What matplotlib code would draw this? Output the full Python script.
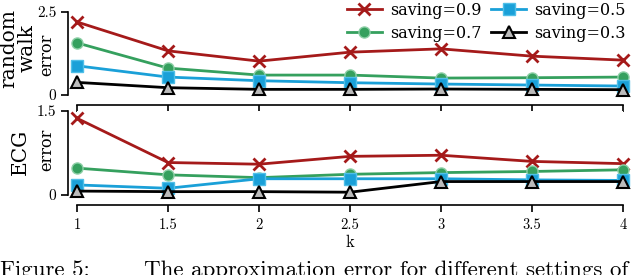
import matplotlib
matplotlib.use('Agg')
import matplotlib.pyplot as plt

k = [1, 1.5, 2, 2.5, 3, 3.5, 4]
savings = ['0.9', '0.7', '0.5', '0.3']

# random walk error per saving level
rw_09 = [2.20, 1.33, 1.02, 1.29, 1.39, 1.17, 1.05]
rw_07 = [1.57, 0.81, 0.60, 0.60, 0.51, 0.52, 0.54]
rw_05 = [0.88, 0.54, 0.43, 0.37, 0.33, 0.30, 0.27]
rw_03 = [0.38, 0.22, 0.17, 0.17, 0.18, 0.17, 0.16]

# ECG error per saving level
ecg_09 = [1.37, 0.58, 0.55, 0.69, 0.71, 0.60, 0.56]
ecg_07 = [0.48, 0.36, 0.31, 0.37, 0.40, 0.42, 0.45]
ecg_05 = [0.18, 0.12, 0.29, 0.29, 0.29, 0.27, 0.26]
ecg_03 = [0.07, 0.06, 0.06, 0.05, 0.24, 0.24, 0.24]

plt.rcParams['font.family'] = 'DejaVu Serif'
plt.rcParams['axes.formatter.use_mathtext'] = True

styles = [
    dict(color='#a51a1a', marker='x', ms=9, mew=2),
    dict(color='#35a05e', marker='o', ms=8, mfc='#35a05e', mec='#8fd0a8', mew=1),
    dict(color='#1aa0d8', marker='s', ms=8, mfc='#1aa0d8', mec='#4fbfe8', mew=1),
    dict(color='black', marker='^', ms=8, mfc='#bbbbbb', mec='black', mew=1.5),
]

fig = plt.figure(figsize=(6.4, 2.75), dpi=100)
ax1 = fig.add_axes([77 / 640, 1 - 95 / 275, 546 / 640, 83 / 275])
ax2 = fig.add_axes([77 / 640, 1 - 195 / 275, 546 / 640, 84 / 275])

top = [rw_09, rw_07, rw_05, rw_03]
bottom = [ecg_09, ecg_07, ecg_05, ecg_03]

for ax, series, ymax in [(ax1, top, 2.5), (ax2, bottom, 1.5)]:
    for s, vals, st in zip(savings, series, styles):
        ax.plot(k, vals, lw=2, label='saving=' + s, clip_on=False, **st)
    ax.set_xlim(1, 4)
    ax.set_ylim(0, ymax)
    ax.set_yticks([0, ymax])
    ax.set_yticklabels(['0', str(ymax)])
    ax.set_xticks(k)
    for side in ['top', 'right']:
        ax.spines[side].set_visible(False)
    ax.spines['left'].set_position(('outward', 6.5))
    ax.spines['bottom'].set_position(('outward', 7))
    ax.spines['left'].set_linewidth(1.2)
    ax.spines['bottom'].set_linewidth(1.2)
    ax.tick_params(direction='out', length=5, width=1.2, labelsize=11)
    for lab in ax.get_yticklabels():
        lab.set_family('cmr10')

ax1.tick_params(axis='x', labelbottom=False)
ax2.set_xticklabels(['1', '1.5', '2', '2.5', '3', '3.5', '4'])
for lab in ax2.get_xticklabels():
    lab.set_family('cmr10')
    lab.set_fontsize(10.5)
ax2.tick_params(axis='x', pad=5)
ax2.set_xlabel('k', family='cmr10', fontsize=12, labelpad=2)

# y labels: big first word(s), smaller "error"
fig.text(9 / 640, 1 - 49 / 275, 'random', fontsize=14.5, rotation=90,
         ha='center', va='center')
fig.text(27 / 640, 1 - 48 / 275, 'walk', fontsize=14.5, rotation=90,
         ha='center', va='center')
fig.text(47 / 640, 1 - 55 / 275, 'error', fontsize=11.5, rotation=90,
         ha='center', va='center')
fig.text(20 / 640, 1 - 152 / 275, 'ECG', fontsize=14.5, rotation=90,
         ha='center', va='center')
fig.text(47 / 640, 1 - 150 / 275, 'error', fontsize=11.5, rotation=90,
         ha='center', va='center')

ax1.legend(ncol=2, frameon=False, fontsize=11.5, loc='upper right',
           bbox_to_anchor=(1.0, 1.045), bbox_transform=fig.transFigure,
           handlelength=2.2, columnspacing=0.6, handletextpad=0.5,
           labelspacing=0.35)

fig.text(0.0, 1 - 260 / 275, 'Figure 5:', family='cmr10', fontsize=16.5, va='top')
fig.text(144 / 640, 1 - 260 / 275, 'The approximation error for different settings of',
         family='cmr10', fontsize=16.5, va='top')

fig.savefig('out.png', dpi=100)
plt.close()
